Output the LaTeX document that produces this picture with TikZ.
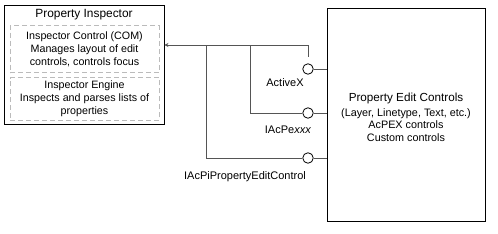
\documentclass[tikz,border=0pt]{standalone}
\usepackage{fontspec}
\setmainfont{Liberation Sans}
\usetikzlibrary{arrows.meta,positioning,calc}
\definecolor{wire}{HTML}{555555}
\definecolor{dashgray}{HTML}{BBBBBB}

\begin{document}
\begin{tikzpicture}[x=1pt,y=-1pt,>={Stealth[length=4pt,width=4pt]},
  box/.style={draw=black,line width=0.9pt,inner sep=0pt},
  part/.style={draw=dashgray,dashed,dash pattern=on 5pt off 3pt,line width=0.8pt,
    minimum width=149pt,align=center,font=\fontsize{10.7}{13}\selectfont},
  port/.style={circle,draw=black,line width=0.8pt,fill=white,minimum size=10.5pt,inner sep=0pt},
  conn/.style={draw=wire,line width=0.9pt},
  lbl/.style={font=\fontsize{11}{13}\selectfont}]
  \useasboundingbox (0,0) rectangle (498,233);
  % property inspector block
  \node[box,minimum width=160pt,minimum height=119pt] (insp) at (84,64.5) {};
  \node[font=\fontsize{11.9}{14}\selectfont] (title) at (84,15) {Property Inspector};
  \node[part,minimum height=47pt] (ctrl) at (84.5,49)
    {Inspector Control (COM)\\Manages layout of edit\\controls, controls focus};
  \node[part,minimum height=42pt] (eng) at (84.5,99)
    {Inspector Engine\\Inspects and parses lists of\\properties};
  % property edit controls block
  \node[box,minimum width=158pt,minimum height=213pt] (pec) at (406,114.5) {};
  \node[align=center,font=\fontsize{10.8}{12.5}\selectfont] (pectext) at (406,117.5)
    {{\fontsize{11.7}{14}\selectfont Property Edit Controls}\\[2pt]
     (Layer, Linetype, Text, etc.)\\AcPEX controls\\Custom controls};
  % interfaces
  \node[port] (pA) at (308,69) {};
  \node[port] (pB) at (308,113) {};
  \node[port] (pC) at (308,158) {};
  \node[lbl] (lA) at (285,83) {ActiveX};
  \node[lbl] (lB) at (288,130) {IAcPe\textit{xxx}};
  \node[lbl] (lC) at (245,177) {IAcPiPropertyEditControl};
  % wiring
  \coordinate (jA) at (308,45);
  \coordinate (jB) at (250,45);
  \coordinate (jC) at (206,45);
  \coordinate (endA) at (308,57);
  \draw[conn,->] (jA) -- (insp.east |- jA);
  \draw[conn] (jA) -- (endA);
  \draw[conn] (jB) |- (pB.west);
  \draw[conn] (jC) |- (pC.west);
  \draw[conn] (pA.east) -- (pec.west |- pA);
  \draw[conn] (pB.east) -- (pec.west |- pB);
  \draw[conn] (pC.east) -- (pec.west |- pC);
\end{tikzpicture}
\end{document}
